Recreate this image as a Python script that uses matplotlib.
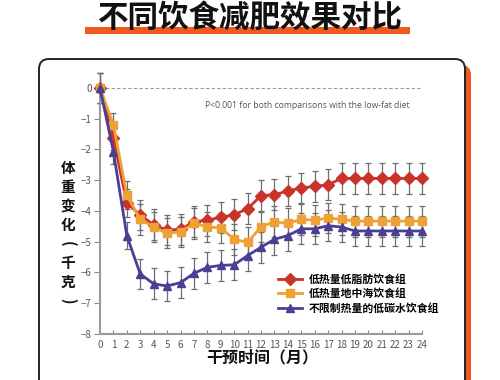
import numpy as np
import matplotlib
matplotlib.use("Agg")
import matplotlib.pyplot as plt
from matplotlib.patches import FancyBboxPatch, Rectangle

plt.rcParams['font.family'] = ['Noto Sans CJK SC', 'DejaVu Sans']

months = list(range(25))
low_fat = [0, -1.63, -3.74, -4.13, -4.45, -4.62, -4.6, -4.35, -4.3, -4.2, -4.12, -3.93,
           -3.5, -3.47, -3.35, -3.25, -3.2, -3.15, -2.94, -2.94, -2.94, -2.94, -2.94, -2.94, -2.94]
mediterranean = [0, -1.2, -3.48, -4.27, -4.52, -4.72, -4.68, -4.4, -4.52, -4.55, -4.92, -5.02,
                 -4.52, -4.35, -4.4, -4.27, -4.3, -4.23, -4.27, -4.33, -4.33, -4.33, -4.33, -4.33, -4.33]
low_carb = [0, -2.07, -4.8, -6.05, -6.37, -6.44, -6.33, -6.03, -5.83, -5.77, -5.75, -5.45,
            -5.18, -4.92, -4.8, -4.58, -4.58, -4.48, -4.52, -4.65, -4.65, -4.65, -4.65, -4.65, -4.65]
err = [0.5, 0.4, 0.45] + [0.5] * 22

labels = ['低热量低脂肪饮食组', '低热量地中海饮食组', '不限制热量的低碳水饮食组']
colors = ['#c9342a', '#eea134', '#4a3f93']
markers = ['D', 's', '^']
yticks = list(range(-8, 1))
xticks = months

fig = plt.figure(figsize=(5, 3.8), dpi=100)

# background in pixel coordinates
bg = fig.add_axes([0, 0, 1, 1], zorder=-1)
bg.set_xlim(0, 500)
bg.set_ylim(380, 0)
bg.axis('off')
bg.add_patch(FancyBboxPatch((45, 65), 426, 360, boxstyle='round,pad=0,rounding_size=10',
                            fc='#ee5a1f', ec='none'))
bg.add_patch(FancyBboxPatch((39, 59), 426, 360, boxstyle='round,pad=0,rounding_size=10',
                            fc='white', ec='#222222', lw=1.4))
bg.add_patch(Rectangle((85, 27), 325, 7, fc='#f05a1e', ec='none'))
bg.text(250, 19, '不同饮食减肥效果对比', ha='center', va='center', fontsize=22,
        fontweight='bold', color='#111111')
ylab = ['体', '重', '变', '化', '(', '千', '克', ')']
for i, ch in enumerate(ylab):
    rot = -90 if ch in '()' else 0
    bg.text(68, 168 + i * 19, ch, ha='center', va='center', fontsize=10.5,
            fontweight='bold', color='#111111', rotation=rot)
bg.text(262, 357, '干预时间（月）', ha='center', va='center', fontsize=11.5,
        fontweight='bold', color='#111111')

ax = fig.add_axes([0.2, 0.1211, 0.644, 0.704])
series = [low_fat, mediterranean, low_carb]
handles = []
for vals, c, m, lab in zip(series, colors, markers, labels):
    ax.errorbar(months, vals, yerr=err, fmt='none', ecolor='#6e6e6e', elinewidth=0.9,
                capsize=2.5, capthick=0.9, zorder=2, clip_on=False)
    ms = 6.5 if m == 'D' else 6
    h, = ax.plot(months, vals, color=c, marker=m, ms=ms, lw=2, zorder=3, clip_on=False,
                 label=lab)
    handles.append(h)

ax.axhline(0, color='#9a9a9a', ls=(0, (3, 2)), lw=0.8, zorder=1)
ax.set_xlim(0, 24)
ax.set_ylim(-8, 0.7)
ax.set_xticks(xticks)
ax.set_yticks(yticks)
ax.set_yticklabels(['−%d' % -v if v < 0 else '0' for v in yticks])
for s in ['top', 'right']:
    ax.spines[s].set_visible(False)
for s in ['left', 'bottom']:
    ax.spines[s].set_color('#9a9a9a')
    ax.spines[s].set_linewidth(1.5)
ax.spines['left'].set_bounds(-8, 0)
ax.tick_params(axis='x', direction='in', length=3, color='#8a8a8a', labelsize=7,
               labelcolor='#555555', pad=4)
ax.tick_params(axis='y', direction='out', length=4, color='#8a8a8a', labelsize=7,
               labelcolor='#555555', pad=2)
ax.patch.set_alpha(0)

ax.text(0.96, 0.853, 'P<0.001 for both comparisons with the low-fat diet', transform=ax.transAxes,
        ha='right', va='center', fontsize=6.2, color='#555555', family=['Open Sans', 'DejaVu Sans'])

leg = ax.legend(handles=handles, loc='upper left', bbox_to_anchor=(0.54, 0.24), frameon=False,
                prop={'size': 7.8, 'weight': 'bold'}, handlelength=2.2, handletextpad=0.6,
                labelspacing=0.35, borderaxespad=0)

fig.savefig('out.png', dpi=100)
